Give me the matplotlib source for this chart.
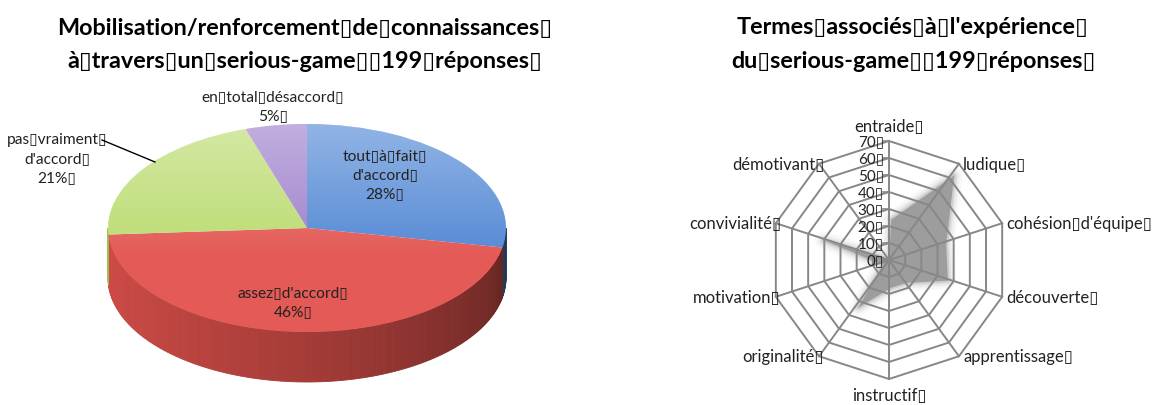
import numpy as np
import matplotlib
matplotlib.use('Agg')
import matplotlib.pyplot as plt
from matplotlib.patches import Polygon, Ellipse
from matplotlib.transforms import Affine2D
from matplotlib.colors import to_rgb

plt.rcParams['font.family'] = ['Lato', 'DejaVu Sans']

# Pie data
pie_names = ["tout▯à▯fait▯\nd'accord▯", "assez▯d'accord▯", "pas▯vraiment▯\nd'accord▯", "en▯total▯désaccord▯"]
pie_values = [28, 46, 21, 5]
pie_top_colors = ['#558ad6', '#e45a56', '#bcdc72', '#9f82cc']
pie_side_colors = ['#4a7cc0', '#cf4b46', '#9cc04f', '#7d5fae']

# Radar data
radar_terms = ['entraide▯', 'ludique▯', "cohésion▯d'équipe▯", 'découverte▯', 'apprentissage▯',
               'instructif▯', 'originalité▯', 'motivation▯', 'convivialité▯', 'démotivant▯']
radar_values = [25, 63, 34, 35, 15, 15, 33, 5, 42, 2]
radar_ticks = [0, 10, 20, 30, 40, 50, 60, 70]

W, H = 1165, 406
fig = plt.figure(figsize=(W / 100, H / 100), dpi=100)

# ---- 3D pie (left) ----
axp = fig.add_axes([0, 0, 600 / W, 1])
cx, cy, rx, ry, depth = 307, H - 229, 199, 104, 50

wedges, _ = axp.pie(pie_values, colors=pie_top_colors, startangle=90, counterclock=False,
                    center=(cx, cy), radius=rx, frame=True, wedgeprops=dict(linewidth=0))
squash = Affine2D().translate(-cx, -cy).scale(1, ry / rx).translate(cx, cy) + axp.transData
for w in wedges:
    w.set_transform(squash)
    w.set_zorder(3)

# side wall, front half only
for w, sc in zip(wedges, pie_side_colors):
    a0, a1 = max(w.theta1, -180), min(w.theta2, 0)
    if a1 <= a0:
        a0, a1 = max(w.theta1 - 360, -180), min(w.theta2 - 360, 0)
    if a1 <= a0:
        continue
    steps = np.linspace(a0, a1, max(2, int((a1 - a0) / 1.0) + 2))
    base = np.array(to_rgb(sc))
    for s0, s1 in zip(steps[:-1], steps[1:]):
        aa = np.radians([s0, s1])
        xs = cx + rx * np.cos(aa)
        ys = cy + ry * np.sin(aa)
        pts = [(xs[0], ys[0]), (xs[1], ys[1]), (xs[1], ys[1] - depth), (xs[0], ys[0] - depth)]
        f = 1.0 - 0.55 * (((s0 + s1) / 2 + 180) / 180) ** 1.4
        col = np.clip(base * f, 0, 1)
        axp.add_patch(Polygon(pts, closed=True, facecolor=col, edgecolor=col, lw=0.6, zorder=2))

# highlight on top face
grad = np.zeros((100, 1, 4))
grad[..., :3] = 1.0
grad[:, 0, 3] = np.clip(np.linspace(0.36, -0.2, 100), 0, 1)
clip = Ellipse((cx, cy), 2 * rx, 2 * ry, transform=axp.transData)
im = axp.imshow(grad, extent=[cx - rx, cx + rx, cy - ry, cy + ry], aspect='auto', zorder=4)
im.set_clip_path(clip)

pct = [f'{v}%▯' for v in pie_values]
lbl_kw = dict(ha='center', va='center', fontsize=11.2, color='#222222', zorder=6, linespacing=1.45)
axp.text(385, H - 175, pie_names[0] + '\n' + pct[0], **lbl_kw)
axp.text(293, H - 303, pie_names[1] + '\n' + pct[1], **lbl_kw)
axp.text(57, H - 159, pie_names[2] + '\n' + pct[2], **lbl_kw)
axp.text(273, H - 107, pie_names[3] + '\n' + pct[3], **lbl_kw)
axp.plot([102, 155], [H - 141, H - 163], color='black', lw=1, zorder=6)

axp.set_xlim(0, 600)
axp.set_ylim(0, H)
axp.axis('off')

fig.text(305 / W, 1 - 28 / H, 'Mobilisation/renforcement▯de▯connaissances▯',
         ha='center', va='center', fontsize=16.8, fontweight='bold')
fig.text(305 / W, 1 - 62 / H, 'à▯travers▯un▯serious-game▯▯199▯réponses▯',
         ha='center', va='center', fontsize=16.8, fontweight='bold')

# ---- radar (right) ----
k = 1.7
rcx, rcy = 889, 261
axr = fig.add_axes([650 / W, 0, (W - 650) / W, (H - 110) / H])
axr.set_xlim((650 - rcx) / k, (W - rcx) / k)
axr.set_ylim(-(H - rcy) / k, (rcy - 110) / k)
axr.axis('off')

n = len(radar_terms)
ang = np.radians(90 - 360 / n * np.arange(n))
rmax = radar_ticks[-1]

vals = np.array(radar_values, dtype=float)
sx = np.append(vals * np.cos(ang), vals[0] * np.cos(ang[0])) + 1.3
sy = np.append(vals * np.sin(ang), vals[0] * np.sin(ang[0])) - 1.3
for lw, al in [(12, 0.06), (8, 0.09), (5, 0.14), (2.5, 0.25)]:
    axr.plot(sx, sy, color='#8c8c8c', lw=lw, alpha=al, solid_joinstyle='round', zorder=1)
axr.fill(sx, sy, color='#9d9d9d', lw=0, zorder=1)

grid_col = '#878787'
for t in radar_ticks[1:]:
    gx = np.append(t * np.cos(ang), t * np.cos(ang[0]))
    gy = np.append(t * np.sin(ang), t * np.sin(ang[0]))
    axr.plot(gx, gy, color=grid_col, lw=1.4, zorder=2)
for a in ang:
    axr.plot([0, rmax * np.cos(a)], [0, rmax * np.sin(a)], color=grid_col, lw=1.4, zorder=2)

for t in radar_ticks:
    axr.plot([-3.5, 0], [t, t], color=grid_col, lw=1.2, zorder=2)
    axr.text(-3.0, t, f'{t}▯', ha='right', va='center', fontsize=11, color='#222222', zorder=5)

for term, a in zip(radar_terms, ang):
    x, y = rmax * np.cos(a), rmax * np.sin(a)
    c = np.cos(a)
    if abs(c) < 1e-6:
        dy = 9 if np.sin(a) > 0 else -9.5
        axr.text(x, y + dy, term, ha='center', va='center', fontsize=12, color='#222222')
    elif c > 0:
        axr.text(x + 2.5, y, term, ha='left', va='center', fontsize=12, color='#222222')
    else:
        axr.text(x + 3, y, term, ha='right', va='center', fontsize=12, color='#222222')

fig.text(913 / W, 1 - 28 / H, "Termes▯associés▯à▯l'expérience▯",
         ha='center', va='center', fontsize=16.8, fontweight='bold')
fig.text(913 / W, 1 - 61 / H, 'du▯serious-game▯▯199▯réponses▯',
         ha='center', va='center', fontsize=16.8, fontweight='bold')

fig.savefig('out.png', dpi=100)
